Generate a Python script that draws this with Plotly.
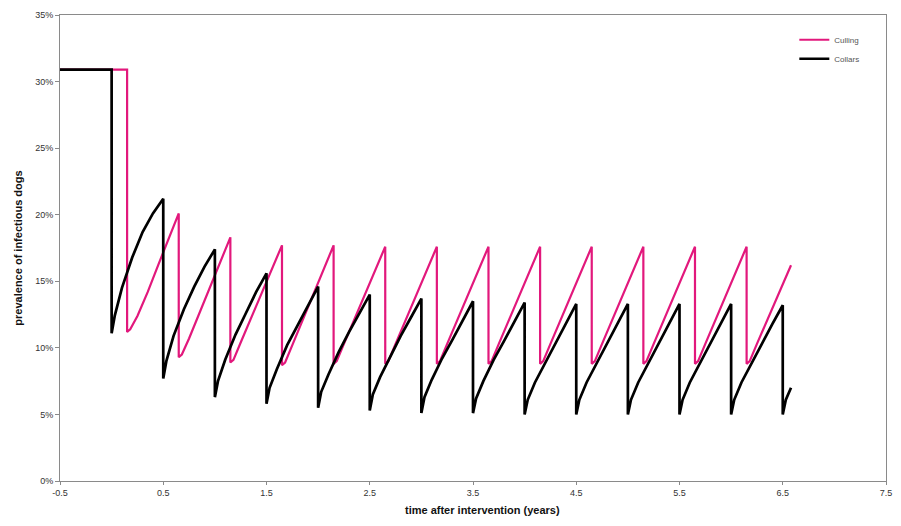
import plotly.graph_objects as go

# ---------------- data (prevalence in %) ----------------
x_tick_vals = [-0.5, 0.5, 1.5, 2.5, 3.5, 4.5, 5.5, 6.5, 7.5]
x_tick_text = ["-0.5", "0.5", "1.5", "2.5", "3.5", "4.5", "5.5", "6.5", "7.5"]
y_tick_vals = [0, 5, 10, 15, 20, 25, 30, 35]
y_tick_text = ["0%", "5%", "10%", "15%", "20%", "25%", "30%", "35%"]

pre_start = -0.5
pre_level = 30.9

# time offsets (years) within each 6-month cycle
rise_offsets = [0.0, 0.03, 0.1, 0.2, 0.3, 0.4, 0.5]

# Collars (black)
collars_starts = [0.0, 0.5, 1.0, 1.5, 2.0, 2.5, 3.0, 3.5, 4.0, 4.5, 5.0, 5.5, 6.0]
collars_cycles = [
    [11.1, 12.4, 14.5, 16.8, 18.7, 20.1, 21.2],
    [7.7, 9.0, 10.9, 12.9, 14.6, 16.1, 17.4],
    [6.3, 7.5, 9.1, 11.0, 12.6, 14.2, 15.6],
    [5.8, 7.0, 8.4, 10.2, 11.7, 13.2, 14.6],
    [5.5, 6.7, 8.0, 9.7, 11.2, 12.6, 14.0],
    [5.3, 6.5, 7.8, 9.4, 10.9, 12.3, 13.7],
    [5.1, 6.3, 7.6, 9.2, 10.6, 12.1, 13.5],
    [5.1, 6.2, 7.5, 9.1, 10.5, 11.9, 13.4],
    [5.0, 6.1, 7.4, 8.9, 10.3, 11.8, 13.3],
    [5.0, 6.1, 7.4, 8.9, 10.3, 11.8, 13.3],
    [5.0, 6.1, 7.4, 8.9, 10.3, 11.8, 13.3],
    [5.0, 6.1, 7.4, 8.9, 10.3, 11.8, 13.3],
    [5.0, 6.1, 7.4, 8.9, 10.3, 11.8, 13.2],
]
collars_tail_start = 6.5
collars_tail_offsets = [0.0, 0.03, 0.08]
collars_tail_values = [5.0, 6.1, 7.0]

# Culling (pink)
culling_starts = [0.15, 0.65, 1.15, 1.65, 2.15, 2.65, 3.15, 3.65, 4.15, 4.65, 5.15, 5.65]
culling_cycles = [
    [11.2, 11.4, 12.4, 14.2, 16.2, 18.2, 20.1],
    [9.3, 9.5, 10.7, 12.6, 14.5, 16.4, 18.3],
    [8.9, 9.1, 10.4, 12.2, 14.0, 15.9, 17.7],
    [8.7, 8.9, 10.2, 12.1, 13.9, 15.8, 17.7],
    [8.8, 9.0, 10.3, 12.1, 13.9, 15.8, 17.6],
    [8.8, 9.0, 10.3, 12.1, 13.9, 15.8, 17.6],
    [8.8, 9.0, 10.3, 12.1, 13.9, 15.8, 17.6],
    [8.8, 9.0, 10.3, 12.1, 13.9, 15.8, 17.6],
    [8.8, 9.0, 10.3, 12.1, 13.9, 15.8, 17.6],
    [8.8, 9.0, 10.3, 12.1, 13.9, 15.8, 17.6],
    [8.8, 9.0, 10.3, 12.1, 13.9, 15.8, 17.6],
    [8.8, 9.0, 10.3, 12.1, 13.9, 15.8, 17.6],
]
culling_tail_start = 6.15
culling_tail_offsets = [0.0, 0.03, 0.1, 0.2, 0.3, 0.4, 0.43]
culling_tail_values = [8.8, 9.0, 10.3, 12.1, 13.9, 15.8, 16.2]


def build(starts, cycles, tail_start, tail_offsets, tail_values):
    xs = [pre_start, starts[0]]
    ys = [pre_level, pre_level]
    for s, vals in zip(starts, cycles):
        for o, v in zip(rise_offsets, vals):
            xs.append(s + o)
            ys.append(v)
    for o, v in zip(tail_offsets, tail_values):
        xs.append(tail_start + o)
        ys.append(v)
    return xs, ys


cx, cy = build(culling_starts, culling_cycles, culling_tail_start,
               culling_tail_offsets, culling_tail_values)
kx, ky = build(collars_starts, collars_cycles, collars_tail_start,
               collars_tail_offsets, collars_tail_values)

PINK = "#e2187c"
AXIS = "#8a8a8a"
TXT = "#333333"
FONT = "Liberation Sans, Arial, sans-serif"

fig = go.Figure()
fig.add_trace(go.Scatter(x=cx, y=cy, mode="lines", name="Culling",
                         line=dict(color=PINK, width=2.2)))
fig.add_trace(go.Scatter(x=kx, y=ky, mode="lines", name="Collars",
                         line=dict(color="#000000", width=2.7)))

fig.update_layout(
    width=901, height=526,
    margin=dict(l=60, r=15, t=15, b=45),
    paper_bgcolor="white", plot_bgcolor="white",
    font=dict(family=FONT, size=10, color=TXT),
    showlegend=True,
    legend=dict(x=0.889, y=0.978, xanchor="left", yanchor="top",
                bgcolor="rgba(0,0,0,0)", font=dict(size=8, color="#555555"),
                itemwidth=30, tracegroupgap=0),
    annotations=[
        dict(text="<b>time after intervention (years)</b>",
             xref="paper", yref="paper", x=0.512, y=0, yshift=-29,
             xanchor="center", yanchor="middle", showarrow=False,
             font=dict(size=11, color="#111111")),
    ],
)
fig.update_xaxes(
    range=[-0.5, 7.5], tickvals=x_tick_vals, ticktext=x_tick_text,
    showgrid=False, zeroline=False, showline=True, linecolor=AXIS,
    linewidth=1, mirror=True, ticks="outside", ticklen=3, tickcolor=AXIS,
    tickfont=dict(size=9, color=TXT),
    automargin=False,
)
fig.update_yaxes(
    range=[0, 35], tickvals=y_tick_vals, ticktext=y_tick_text,
    showgrid=False, zeroline=False, showline=True, linecolor=AXIS,
    linewidth=1, mirror=True, ticks="outside", ticklen=4, tickcolor=AXIS,
    tickfont=dict(size=9, color=TXT),
    title=dict(text="<b>prevalence of infectious dogs</b>",
               font=dict(size=11, color="#111111"), standoff=10),
    automargin=False,
)

fig.write_html(
    "out.html",
    config={"displayModeBar": False},
    post_script="document.body.style.margin='0';document.body.style.padding='0';",
)
